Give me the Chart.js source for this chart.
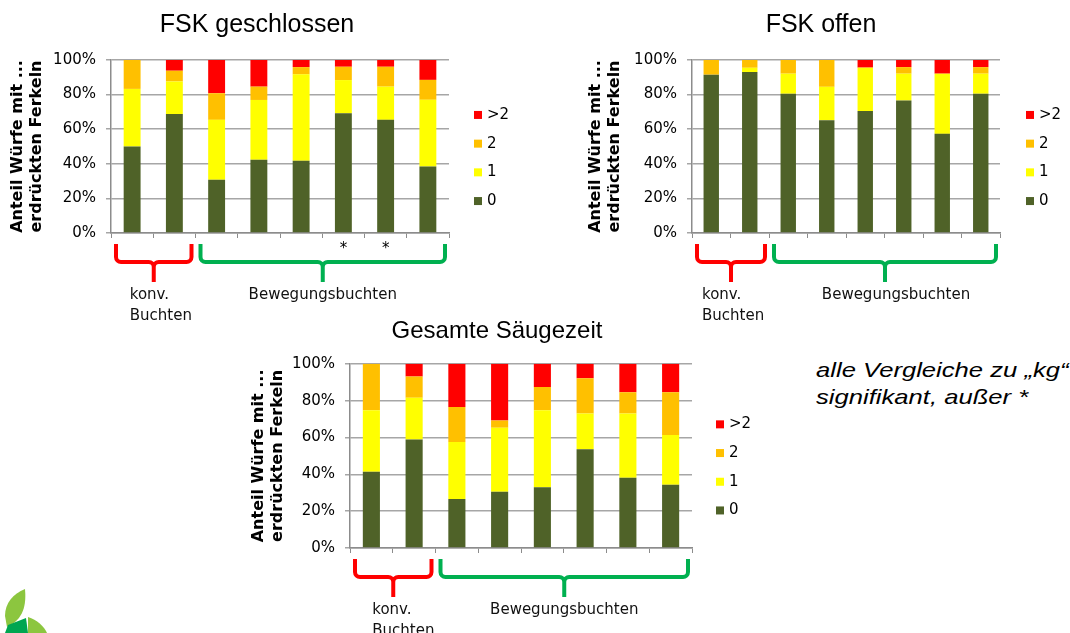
<!DOCTYPE html>
<html>
<head>
<meta charset="utf-8">
<script src="https://cdn.jsdelivr.net/npm/chart.js@4.4.1/dist/chart.umd.min.js"></script>
<style>
  body { margin: 0; background: #fff; width: 1070px; height: 633px; overflow: hidden; position: relative; font-family: "Liberation Sans", Arial, sans-serif; }
  canvas { position: absolute; }
  #note { position: absolute; left: 816px; top: 356px; font-style: italic; font-size: 21px; line-height: 27px; color: #000; white-space: nowrap; transform: scaleX(1.22); transform-origin: 0 0; }
  #logo { position: absolute; left: 0; top: 580px; }
</style>
</head>
<body>
<canvas id="c1" width="514" height="325" style="left:0;top:0;width:514px;height:325px"></canvas>
<canvas id="c2" width="498" height="325" style="left:572px;top:0;width:498px;height:325px"></canvas>
<canvas id="c3" width="514" height="333" style="left:240px;top:300px;width:514px;height:333px"></canvas>
<div id="note">alle Vergleiche zu „kg“<br>signifikant, außer *</div>
<svg id="logo" width="60" height="53">
  <path d="M25 9 C 13 14, 5 23, 5 36 L 7 47 C 20 41, 27 30, 25 9 Z" fill="#8cc63f"/>
  <path d="M5 53 L 8 45 L 26 38 L 28 53 Z" fill="#00a651"/>
  <path d="M28 37 C 37 40, 44 46, 47 53 L 28 53 Z" fill="#8cc63f"/>
</svg>
<script>
// categories (the original slide does not label them)
const categories = ['konv. 1', 'konv. 2', 'BB 1', 'BB 2', 'BB 3', 'BB 4', 'BB 5', 'BB 6'];
const legendLabels = ['0', '1', '2', '>2'];
const colors = ['#4f6228', '#ffff00', '#ffc000', '#ff0000'];

// FSK geschlossen (percent of litters)
const geschlossen0 = [50.0, 68.8, 30.8, 42.3, 41.7, 69.2, 65.4, 38.5];
const geschlossen1 = [33.3, 18.8, 34.6, 34.6, 50.0, 19.2, 19.2, 38.5];
const geschlossen2 = [16.7, 6.2, 15.4, 7.7, 4.2, 7.7, 11.5, 11.5];
const geschlossen3 = [0.0, 6.2, 19.2, 15.4, 4.1, 3.9, 3.9, 11.5];

// FSK offen
const offen0 = [91.5, 93.0, 80.5, 65.2, 70.5, 76.6, 57.3, 80.5];
const offen1 = [0.0, 2.5, 11.6, 19.3, 25.1, 15.5, 34.8, 11.6];
const offen2 = [8.5, 4.5, 7.9, 15.5, 0.0, 3.8, 0.0, 3.8];
const offen3 = [0.0, 0.0, 0.0, 0.0, 4.4, 4.1, 7.9, 4.1];

// Gesamte Säugezeit
const gesamt0 = [41.4, 58.9, 26.6, 30.5, 33.0, 53.6, 38.1, 34.3];
const gesamt1 = [33.4, 22.7, 30.9, 34.8, 41.8, 19.4, 34.9, 27.0];
const gesamt2 = [25.2, 11.5, 19.1, 3.9, 12.6, 19.2, 11.5, 23.2];
const gesamt3 = [0.0, 6.9, 23.4, 30.8, 12.6, 7.8, 15.5, 15.5];

// marks under the categories (not significant)
const marksGeschlossen = ['', '', '', '', '', '*', '*', ''];
const marksNone = ['', '', '', '', '', '', '', ''];

const yTitle = ['Anteil Würfe mit ...', 'erdrückten Ferkeln'];
const groups = [
  { from: 0, to: 1, color: '#ff0000', label: ['konv.', 'Buchten'], left: true },
  { from: 2, to: 7, color: '#00b050', label: ['Bewegungsbuchten'], left: false }
];

const tickFont = { family: '"DejaVu Sans", Verdana, sans-serif', size: 15 };

// custom legend (as a layout box on the right) + group brackets
const extras = {
  id: 'extras',
  start(chart, args, opts) {
    const box = {
      position: 'right', weight: 1000, fullSize: false, options: {},
      left: 0, top: 0, right: 0, bottom: 0, width: 0, height: 0,
      isHorizontal() { return false; },
      update(maxWidth, maxHeight) { this.width = opts.boxWidth; this.height = maxHeight; },
      draw() {}
    };
    Chart.layouts.addBox(chart, box);
  },
  afterDraw(chart, args, opts) {
    const ctx = chart.ctx;
    const area = chart.chartArea;
    const x = chart.scales.x;
    const step = x.getPixelForValue(1) - x.getPixelForValue(0);
    const edge = i => x.getPixelForValue(i) - step / 2;
    const ds = chart.data.datasets;

    ctx.save();
    ctx.font = '15px "DejaVu Sans", Verdana, sans-serif';
    ctx.textBaseline = 'middle';
    ctx.textAlign = 'left';
    const mid = (area.top + area.bottom) / 2 + 11.5;
    const gap = 28.7;
    for (let k = ds.length - 1; k >= 0; k--) {
      const row = ds.length - 1 - k;
      const y = mid + (row - (ds.length - 1) / 2) * gap;
      ctx.fillStyle = ds[k].backgroundColor;
      ctx.fillRect(area.right + opts.legendGap, y - 4, 8, 8);
      ctx.fillStyle = '#000';
      ctx.fillText(ds[k].label, area.right + opts.legendGap + 13, y);
    }

    groups.forEach((g, gi) => {
      const x0 = edge(g.from) + 5;
      const x1 = edge(g.to + 1) - 4;
      const xc = (x0 + x1) / 2;
      const top = area.bottom + 11;
      const hy = area.bottom + 29;
      const bot = area.bottom + 49;
      const r = 5;
      ctx.strokeStyle = g.color;
      ctx.lineWidth = 4;
      ctx.lineJoin = 'round';
      ctx.beginPath();
      ctx.moveTo(x0, top);
      ctx.arcTo(x0, hy, x0 + r, hy, r);
      ctx.lineTo(xc - r, hy);
      ctx.arcTo(xc, hy, xc, hy + r, r);
      ctx.lineTo(xc, bot);
      ctx.moveTo(xc, hy + r);
      ctx.arcTo(xc, hy, xc + r, hy, r);
      ctx.lineTo(x1 - r, hy);
      ctx.arcTo(x1, hy, x1, hy - r, r);
      ctx.lineTo(x1, top);
      ctx.stroke();

      ctx.fillStyle = '#111';
      ctx.textBaseline = 'alphabetic';
      ctx.textAlign = g.left ? 'left' : 'center';
      const lx = (g.left ? xc - 24 : xc) + opts.labelDx[gi];
      g.label.forEach((t, i) => ctx.fillText(t, lx, area.bottom + 66 + i * 21));
    });
    ctx.restore();
  }
};

const makeChart = (id, titel, s0, s1, s2, s3, marks, geo) => {
  const series = [s0, s1, s2, s3];
  const data = {
    labels: categories,
    datasets: series.map((s, i) => ({
      label: legendLabels[i],
      data: s,
      backgroundColor: colors[i],
      borderWidth: 0,
      barPercentage: 0.4,
      categoryPercentage: 1
    }))
  };
  const config = {
    type: 'bar',
    data: data,
    options: {
      responsive: false,
      animation: false,
      layout: { padding: 0 },
      plugins: {
        legend: { display: false },
        tooltip: { enabled: false },
        title: {
          display: true,
          text: titel,
          color: '#000',
          font: { family: '"Liberation Sans", Arial, sans-serif', size: geo.titleSize, weight: 'normal' },
          padding: geo.titlePad
        },
        extras: { legendGap: geo.legendGap, boxWidth: geo.legendWidth, labelDx: geo.labelDx }
      },
      scales: {
        x: {
          stacked: true,
          afterFit: s => { s.height = geo.xHeight; },
          grid: { display: true, drawOnChartArea: false, offset: true, tickLength: 5, color: '#8c8c8c', lineWidth: 1 },
          border: { color: '#8c8c8c', width: 1.5 },
          ticks: { autoSkip: false, maxRotation: 0, padding: 2, color: '#000', font: tickFont, callback: (v, i) => marks[i] }
        },
        y: {
          stacked: true,
          min: 0,
          max: 100,
          afterFit: s => { s.width = geo.yWidth; },
          grid: { color: '#a6a6a6', lineWidth: 1.5, tickLength: 5 },
          border: { color: '#8c8c8c', width: 1.5 },
          ticks: { stepSize: 20, padding: 10, color: '#000', font: tickFont, callback: v => v + '%' },
          title: {
            display: true,
            text: yTitle,
            color: '#000',
            font: { family: '"DejaVu Sans", Verdana, sans-serif', size: 16, weight: 'bold', lineHeight: 19 / 16 },
            padding: { top: geo.yTitlePad, bottom: 0 }
          }
        }
      }
    },
    plugins: [extras]
  };
  return new Chart(document.getElementById(id), config);
};

makeChart('c1', 'FSK geschlossen', geschlossen0, geschlossen1, geschlossen2, geschlossen3, marksGeschlossen,
  { legendWidth: 65, titleSize: 25, titlePad: { top: 10, bottom: 20 }, xHeight: 92, yWidth: 111, yTitlePad: 8.5, legendGap: 25, labelDx: [0, 0] });
makeChart('c2', 'FSK offen', offen0, offen1, offen2, offen3, marksNone,
  { legendWidth: 70, titleSize: 25, titlePad: { top: 10, bottom: 20 }, xHeight: 92, yWidth: 120, yTitlePad: 14.5, legendGap: 26, labelDx: [-5, 11] });
makeChart('c3', 'Gesamte Säugezeit', gesamt0, gesamt1, gesamt2, gesamt3, marksNone,
  { legendWidth: 62, titleSize: 24, titlePad: { top: 17, bottom: 18 }, xHeight: 85, yWidth: 110, yTitlePad: 9.5, legendGap: 24, labelDx: [3, 0] });
</script>
</body>
</html>
